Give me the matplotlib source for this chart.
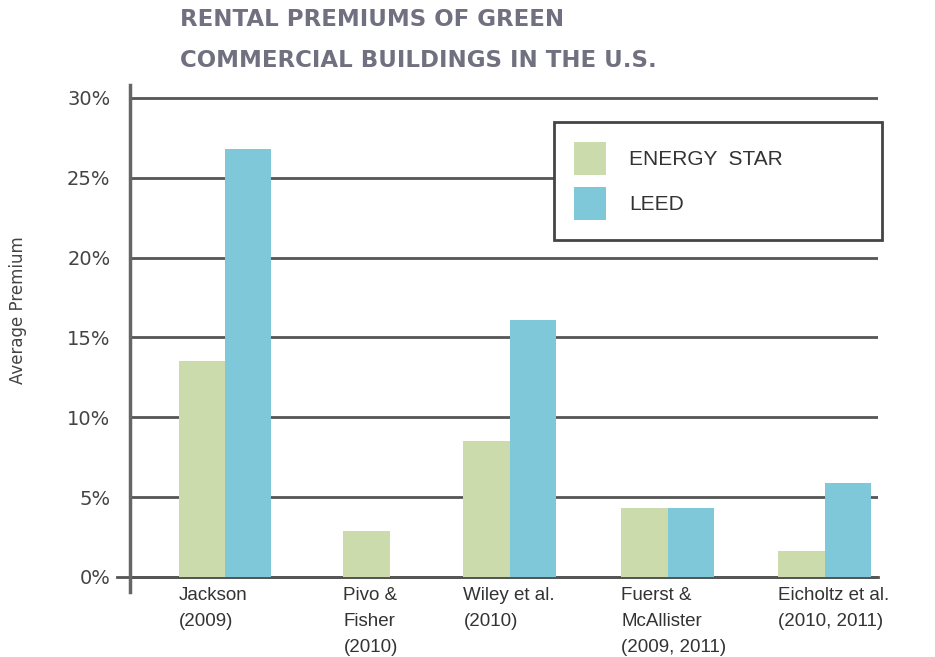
import numpy as np
import matplotlib
matplotlib.use("Agg")
from matplotlib import pyplot as plt
from matplotlib.patches import Patch

studies = ["Jackson\n(2009)", "Pivo &\nFisher\n(2010)", "Wiley et al.\n(2010)",
           "Fuerst &\nMcAllister\n(2009, 2011)", "Eicholtz et al.\n(2010, 2011)"]
energy_star = [13.5, 2.9, 8.5, 4.3, 1.6]
leed = [26.8, np.nan, 16.1, 4.3, 5.9]
yticks = [0, 5, 10, 15, 20, 25, 30]

GREEN = "#cbdbab"
BLUE = "#7ec8d9"
GRID = "#555555"

# group centres are not evenly spaced in the original
xpos = np.array([0, 1.05, 1.815, 2.82, 3.82])
w = 0.296

fig = plt.figure(figsize=(9.35, 6.57), dpi=100)
ax = fig.add_axes([130 / 935, 65 / 657, 748 / 935, 507 / 657])

for y in yticks:
	ax.axhline(y, color=GRID, lw=2, zorder=1)
ax.axhline(0, xmin=-13 / 748, xmax=1, color=GRID, lw=2, zorder=1, clip_on=False)

ax.bar(xpos - w / 2, energy_star, w, color=GREEN, zorder=2)
ax.bar(xpos + w / 2, leed, w, color=BLUE, zorder=2)

ax.set_xlim(-0.605, 4.159)
ax.set_ylim(-0.94, 30.81)

for s in ["top", "right", "bottom"]:
	ax.spines[s].set_visible(False)
ax.spines["left"].set_color("#666666")
ax.spines["left"].set_linewidth(2.5)

ax.set_xticks([])
ax.set_yticks(yticks)
ax.set_yticklabels([f"{v}%" for v in yticks], fontsize=14, color="#444444")
ax.tick_params(axis="y", length=0, pad=14)

for x, lab in zip(xpos, studies):
	ax.text(x - w, -0.6, lab, ha="left", va="top", fontsize=13.5,
			family="Liberation Sans", color="#333333", linespacing=1.7)

fig.text(18 / 935, 1 - 310 / 657, "Average Premium", rotation=90, ha="center",
		 va="center", fontsize=12, color="#444444")

fig.text(180 / 935, 1 - 40 / 657, "RENTAL PREMIUMS OF GREEN\nCOMMERCIAL BUILDINGS IN THE U.S.",
		 ha="left", va="center", fontsize=16.5, fontweight="bold", color="#707080",
		 linespacing=1.95)

handles = [Patch(facecolor=GREEN, label="ENERGY  STAR"), Patch(facecolor=BLUE, label="LEED")]
leg = fig.legend(handles=handles, loc="upper left",
				 bbox_to_anchor=(554 / 935, 1 - 238 / 657, 328 / 935, 116 / 657),
				 mode="expand", fancybox=False, framealpha=1, edgecolor="#444444",
				 prop={"family": "Liberation Sans", "size": 15}, handlelength=1.55,
				 handleheight=2.1, labelspacing=0.55, handletextpad=1.1,
				 borderpad=0.95, borderaxespad=0, labelcolor="#333333")
leg.get_frame().set_linewidth(2)

fig.savefig("out.png", dpi=100)
